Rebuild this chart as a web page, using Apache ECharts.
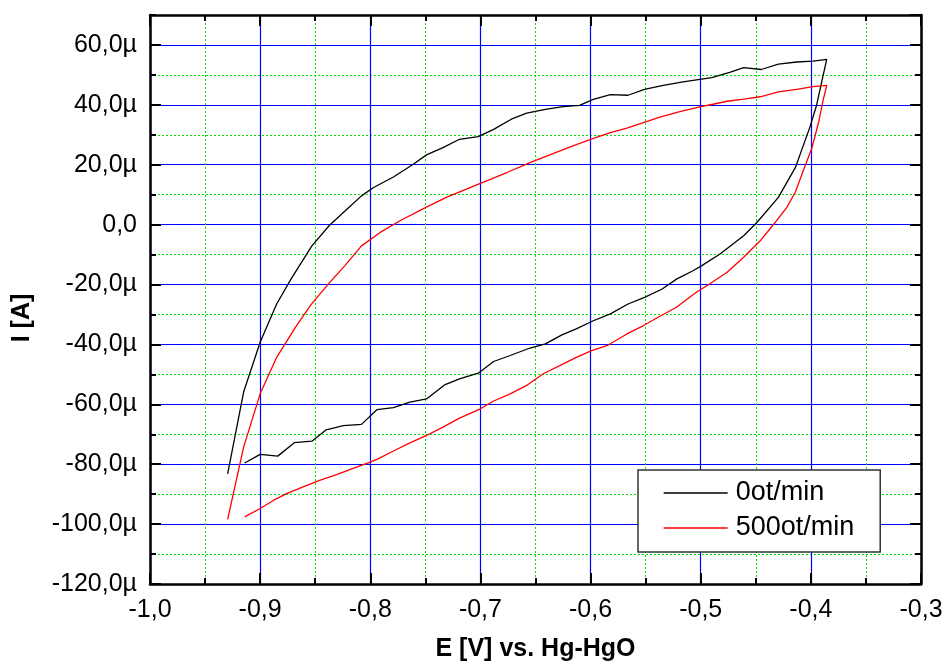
<!DOCTYPE html>
<html>
<head>
<meta charset="utf-8">
<script src="https://cdn.jsdelivr.net/npm/echarts@6/dist/echarts.min.js"></script>
<style>
    html, body {margin: 0; padding: 0; background: #fff;}
    #main {width: 949px; height: 668px;}
</style>
</head>
<body>
<div id="main"></div>
<script>
// 0ot/min : potential (V) and current (µA), anodic branch then cathodic branch
var blackE = [-0.9295, -0.915, -0.900, -0.885, -0.872, -0.853, -0.837, -0.821, -0.808, -0.797,
    -0.779, -0.762, -0.749, -0.734, -0.719, -0.702, -0.688, -0.672, -0.658, -0.641,
    -0.625, -0.610, -0.5975, -0.582, -0.566, -0.551, -0.534, -0.516, -0.490, -0.473,
    -0.461, -0.445, -0.4295, -0.413, -0.398, -0.3856,
    -0.389, -0.395, -0.401, -0.407, -0.414, -0.4295, -0.449, -0.461, -0.4825, -0.499,
    -0.507, -0.522, -0.535, -0.551, -0.566, -0.582, -0.5975, -0.613, -0.626, -0.641,
    -0.655, -0.673, -0.688, -0.702, -0.719, -0.732, -0.749, -0.764, -0.779, -0.794,
    -0.808, -0.8245, -0.840, -0.853, -0.869, -0.884, -0.900, -0.914];
var blackI = [-83.2, -55.9, -39.3, -26.5, -18.2, -7.1, -0.2, 5.2, 9.6, 12.4,
    15.9, 19.9, 23.3, 25.7, 28.5, 29.4, 31.8, 35.2, 37.2, 38.5,
    39.4, 39.8, 41.8, 43.4, 43.2, 45.2, 46.5, 47.7, 49.1, 50.9,
    52.4, 51.8, 53.6, 54.3, 54.6, 55.2,
    49.6, 39.6, 32.4, 26.3, 19.1, 9.1, 0.7, -3.7, -9.8, -13.7,
    -15.4, -18.2, -21.5, -24.3, -26.5, -29.8, -32.1, -34.8, -36.8, -39.8,
    -41.2, -43.7, -45.7, -49.6, -51.5, -53.4, -58.2, -59.3, -61.1, -61.8,
    -66.7, -67.1, -68.5, -72.3, -72.8, -77.3, -76.7, -79.6];

// 500ot/min
var redE = [-0.9295, -0.915, -0.900, -0.885, -0.868, -0.854, -0.838, -0.823, -0.808, -0.791,
    -0.773, -0.750, -0.731, -0.700, -0.676, -0.655, -0.637, -0.619, -0.600, -0.582,
    -0.567, -0.552, -0.537, -0.519, -0.501, -0.489, -0.476, -0.461, -0.446, -0.4295,
    -0.413, -0.398, -0.3856,
    -0.389, -0.393, -0.399, -0.407, -0.414, -0.422, -0.4325, -0.446, -0.461, -0.476,
    -0.492, -0.504, -0.522, -0.537, -0.552, -0.567, -0.584, -0.599, -0.613, -0.628,
    -0.643, -0.658, -0.673, -0.688, -0.700, -0.719, -0.734, -0.749, -0.764, -0.779,
    -0.793, -0.800, -0.815, -0.830, -0.846, -0.861, -0.876, -0.888, -0.900, -0.914];
var redI = [-98.4, -74.3, -56.5, -44.3, -34.3, -26.8, -19.8, -13.7, -7.1, -2.6,
    1.3, 5.7, 9.1, 13.8, 17.4, 20.7, 23.3, 25.9, 28.5, 30.7,
    32.2, 34.1, 35.9, 37.7, 39.3, 40.2, 41.2, 41.9, 42.7, 44.3,
    45.2, 46.1, 46.5,
    41.3, 34.1, 25.7, 17.9, 10.9, 5.7, 0.7, -5.4, -10.9, -15.9,
    -19.8, -22.6, -27.6, -30.6, -33.7, -36.5, -40.2, -42.1, -44.3, -47.1,
    -49.8, -53.7, -56.5, -58.9, -61.5, -64.6, -67.6, -70.4, -72.9, -75.6,
    -78.2, -79.3, -81.3, -83.4, -85.4, -87.6, -89.8, -92.1, -94.8, -97.6];

var seriesNames = ['0ot/min', '500ot/min'];
var xTicks = {min: -1.0, max: -0.3, step: 0.1};
var yTicks = {min: -120, max: 70, step: 20, minorStep: 10};

function pairs(xs, ys) {
    return xs.map(function (x, i) {
        return [x, ys[i]];
    });
}

var font = 'Liberation Sans, Arial, sans-serif';
// fresh objects each time, echarts merges into them
function axisLineStyle() {
    return {show: true, onZero: false, lineStyle: {color: '#000', width: 2.5}};
}
function majorTick() {
    return {show: true, inside: true, length: 11, lineStyle: {color: '#000', width: 2}};
}
function minorTick() {
    return {show: true, inside: true, length: 6, lineStyle: {color: '#000', width: 2}};
}
function blueLine() {
    return {show: true, lineStyle: {color: '#0000ff', width: 1.2, type: 'solid'}};
}
function greenLine() {
    return {show: true, lineStyle: {color: '#00e000', width: 1, type: [2, 2]}};
}

var chart = echarts.init(document.getElementById('main'));
chart.setOption({
    animation: false,
    backgroundColor: '#fff',
    grid: {left: 150, right: 28, top: 15, bottom: 84, containLabel: false},
    legend: {
        orient: 'vertical',
        left: 638,
        top: 470,
        padding: [9, 26, 10, 25],
        itemWidth: 64,
        itemHeight: 14,
        itemGap: 7,
        backgroundColor: '#fff',
        borderColor: '#333',
        borderWidth: 1.5,
        borderRadius: 0,
        itemStyle: {opacity: 0},
        lineStyle: {width: 1.3},
        textStyle: {fontFamily: font, fontSize: 27, color: '#000', lineHeight: 28, padding: [0, 0, 0, 3]},
        data: seriesNames
    },
    xAxis: [{
        type: 'value',
        position: 'bottom',
        min: xTicks.min,
        max: xTicks.max,
        interval: xTicks.step,
        z: 1,
        name: 'E [V] vs. Hg-HgO',
        nameLocation: 'middle',
        nameGap: 53,
        nameTextStyle: {fontFamily: font, fontSize: 25, fontWeight: 'bold', color: '#000'},
        axisLine: axisLineStyle(),
        axisTick: majorTick(),
        minorTick: {show: true, splitNumber: 2, length: 6, lineStyle: {color: '#000', width: 2}},
        splitLine: blueLine(),
        minorSplitLine: greenLine(),
        axisLabel: {
            fontFamily: font, fontSize: 25, color: '#000', margin: 14,
            showMinLabel: true, showMaxLabel: true,
            formatter: function (v) {
                return v.toFixed(1).replace('.', ',');
            }
        }
    }, {
        type: 'value',
        position: 'top',
        min: xTicks.min,
        max: xTicks.max,
        interval: xTicks.step,
        z: 1,
        axisLine: axisLineStyle(),
        axisTick: majorTick(),
        minorTick: {show: true, splitNumber: 2, length: 6, lineStyle: {color: '#000', width: 2}},
        splitLine: {show: false},
        minorSplitLine: {show: false},
        axisLabel: {show: false}
    }],
    yAxis: [{
        type: 'value',
        position: 'left',
        min: yTicks.min,
        max: yTicks.max,
        interval: yTicks.step,
        z: 1,
        name: 'I [A]',
        nameLocation: 'middle',
        nameGap: 115,
        nameTextStyle: {fontFamily: font, fontSize: 25, fontWeight: 'bold', color: '#000', padding: [0, 37, 0, 0]},
        axisLine: axisLineStyle(),
        axisTick: majorTick(),
        splitLine: blueLine(),
        axisLabel: {
            fontFamily: font, fontSize: 25, color: '#000', margin: 13,
            showMaxLabel: false,
            formatter: function (v) {
                if (v === 0) return '0,0';
                return v.toFixed(1).replace('.', ',') + '\u00b5';
            }
        }
    }, {
        // minor ticks / dotted grid every 10µ
        type: 'value',
        position: 'left',
        min: yTicks.min,
        max: yTicks.max,
        interval: yTicks.minorStep,
        z: 0,
        axisLine: {show: false},
        axisTick: minorTick(),
        splitLine: greenLine(),
        axisLabel: {show: false}
    }, {
        type: 'value',
        position: 'right',
        min: yTicks.min,
        max: yTicks.max,
        interval: yTicks.step,
        z: 1,
        axisLine: axisLineStyle(),
        axisTick: majorTick(),
        splitLine: {show: false},
        axisLabel: {show: false}
    }, {
        type: 'value',
        position: 'right',
        min: yTicks.min,
        max: yTicks.max,
        interval: yTicks.minorStep,
        z: 0,
        axisLine: {show: false},
        axisTick: minorTick(),
        splitLine: {show: false},
        axisLabel: {show: false}
    }],
    series: [{
        name: seriesNames[0],
        type: 'line',
        xAxisIndex: 0,
        yAxisIndex: 0,
        symbol: 'none',
        showSymbol: false,
        z: 5,
        color: '#000',
        lineStyle: {color: '#000', width: 1.3},
        data: pairs(blackE, blackI)
    }, {
        name: seriesNames[1],
        type: 'line',
        xAxisIndex: 0,
        yAxisIndex: 0,
        symbol: 'none',
        showSymbol: false,
        z: 5,
        color: '#ff0000',
        lineStyle: {color: '#ff0000', width: 1.3},
        data: pairs(redE, redI)
    }]
});
</script>
</body>
</html>
